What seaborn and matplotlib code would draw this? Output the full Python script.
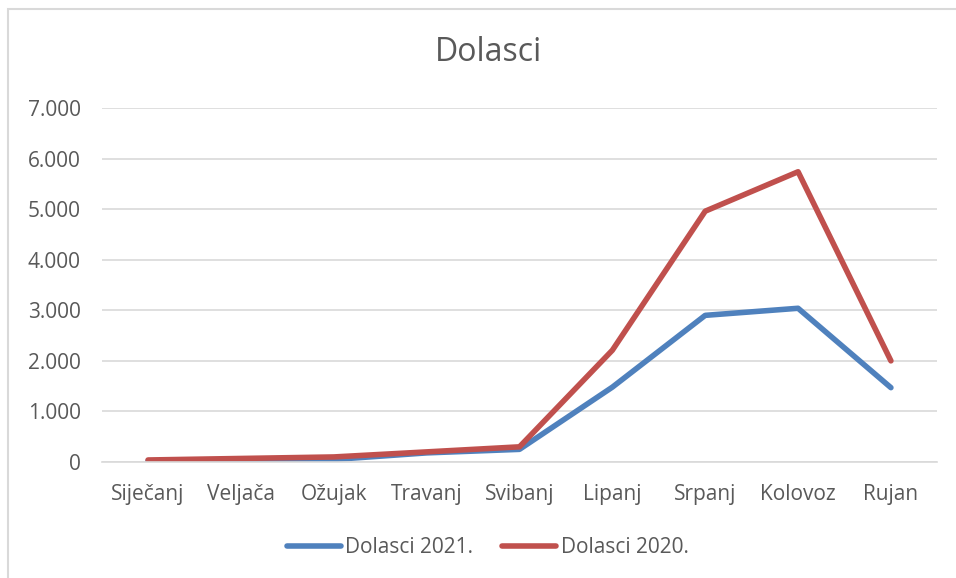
import matplotlib
matplotlib.use('Agg')
import matplotlib.pyplot as plt
from matplotlib.patches import Rectangle
from matplotlib.ticker import FuncFormatter
import pandas as pd
import seaborn as sns

# data
mjeseci = ['Siječanj', 'Veljača', 'Ožujak', 'Travanj', 'Svibanj',
           'Lipanj', 'Srpanj', 'Kolovoz', 'Rujan']
dolasci_2021 = [20, 20, 50, 180, 250, 1480, 2900, 3040, 1470]
dolasci_2020 = [40, 70, 100, 200, 300, 2210, 4960, 5740, 2000]
serije = ['Dolasci 2021.', 'Dolasci 2020.']
boje = ['#4f81bd', '#c0504d']

df = pd.DataFrame({
    'Mjesec': mjeseci * 2,
    'Dolasci': dolasci_2021 + dolasci_2020,
    'Serija': [serije[0]] * len(mjeseci) + [serije[1]] * len(mjeseci),
})

sns.set_style('white')
plt.rcParams['font.family'] = ['Open Sans', 'DejaVu Sans']
tekst = '#595959'

fig = plt.figure(figsize=(9.56, 5.78), dpi=100)
ax = fig.add_axes([0.1063, 0.2007, 0.8742, 0.6124])

sns.lineplot(data=df, x='Mjesec', y='Dolasci', hue='Serija', palette=boje,
             linewidth=4, sort=False, ax=ax, legend=False,
             solid_capstyle='round', solid_joinstyle='round')

ax.set_xlim(-0.5, len(mjeseci) - 0.5)
ax.set_ylim(0, 7000)
ax.set_yticks(range(0, 7001, 1000))
ax.yaxis.set_major_formatter(FuncFormatter(lambda v, p: f'{int(v):,}'.replace(',', '.')))
ax.grid(axis='y', color='#d9d9d9', linewidth=1.2)
ax.set_axisbelow(True)
for s in ['top', 'right', 'left']:
    ax.spines[s].set_visible(False)
ax.spines['bottom'].set_color('#d9d9d9')
ax.spines['bottom'].set_linewidth(1.2)
ax.tick_params(axis='both', length=0, labelsize=15, labelcolor=tekst)
ax.tick_params(axis='y', pad=15)
ax.tick_params(axis='x', pad=16)
ax.set_xlabel('')
ax.set_ylabel('')

fig.text(0.511, 0.91, 'Dolasci', ha='center', va='center', fontsize=23, color=tekst)

# legend at the bottom
handles = [plt.Line2D([], [], color=c, linewidth=4, solid_capstyle='round') for c in boje]
fig.legend(handles, serije, loc='center', bbox_to_anchor=(0.51, 0.052), ncol=2,
           frameon=False, fontsize=15, labelcolor=tekst, handlelength=2.6,
           handletextpad=0.2, columnspacing=1.4)

# chart frame
fig.patches.append(Rectangle((8 / 956, -0.1), 1.2, 1 - 9 / 578 + 0.1,
                             transform=fig.transFigure, fill=False,
                             edgecolor='#d9d9d9', linewidth=1.5))

fig.savefig('out.png', dpi=100)
